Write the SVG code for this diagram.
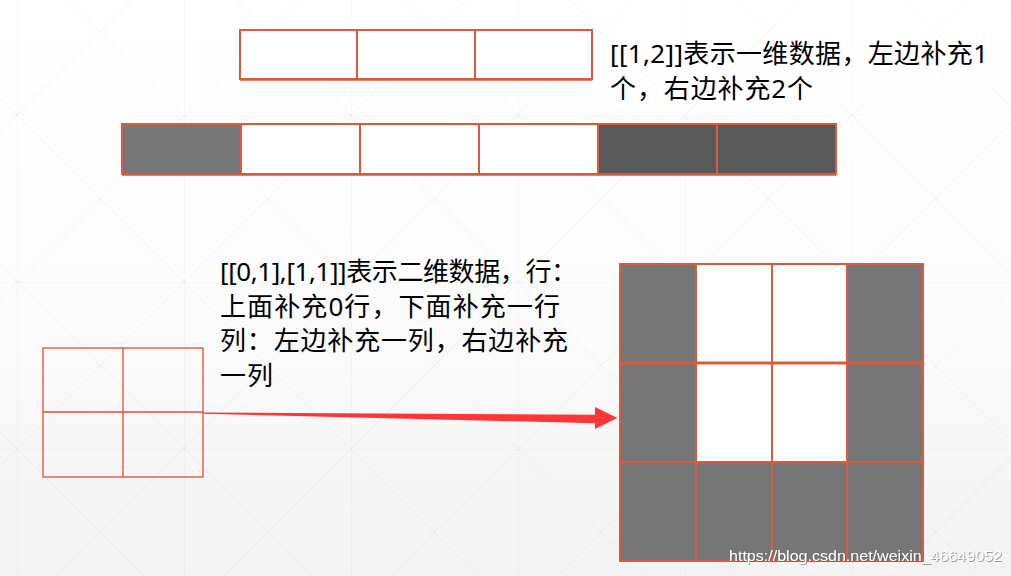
<svg xmlns="http://www.w3.org/2000/svg" width="1011" height="576" viewBox="0 0 1011 576">
  <defs>
    <linearGradient id="bg" x1="0" y1="0" x2="0" y2="1">
      <stop offset="0" stop-color="#ffffff"/>
      <stop offset="0.45" stop-color="#fdfdfd"/>
      <stop offset="1" stop-color="#f3f3f3"/>
    </linearGradient>
    <pattern id="deco" x="17" y="-52" width="167" height="167" patternUnits="userSpaceOnUse">
      <path d="M0 0V167M0 0H167M0 0L167 167M167 0L0 167" fill="none" stroke="#000" stroke-opacity="0.045" stroke-width="1"/>
    </pattern>
    <filter id="shadow" x="-5%" y="-30%" width="110%" height="160%">
      <feDropShadow dx="0.8" dy="0.8" stdDeviation="0.6" flood-color="#555" flood-opacity="0.7"/>
    </filter>
    <style>
      .cell { stroke: #dc5a3e; stroke-width: 2; }
      .w { fill: #ffffff; }
      .g { fill: #767676; }
      .d { fill: #595959; }
      .thin { fill: none; stroke: #dc4f33; stroke-width: 1.3; }
      .t { font-family: "Noto Sans", "Noto Sans CJK SC", sans-serif; font-size: 26px; fill: #000000; }
      .wm { font-family: "Liberation Sans", Arial, sans-serif; font-size: 15.5px; fill: #ffffff; }
    </style>
  </defs>

  <rect width="1011" height="576" fill="url(#bg)"/>
  <rect width="1011" height="576" fill="url(#deco)"/>

  <g id="bar1d-input">
    <rect class="cell w" x="240" y="30" width="117" height="49"/>
    <rect class="cell w" x="357" y="30" width="118" height="49"/>
    <rect class="cell w" x="475" y="30" width="117" height="49"/>
    <line x1="240" y1="79.5" x2="592" y2="79.5" stroke="#d9573a" stroke-width="2.5"/>
  </g>

  <g id="bar1d-padded">
    <rect class="cell g" x="122" y="124" width="119" height="50"/>
    <rect class="cell w" x="241" y="124" width="119" height="50"/>
    <rect class="cell w" x="360" y="124" width="119" height="50"/>
    <rect class="cell w" x="479" y="124" width="119" height="50"/>
    <rect class="cell d" x="598" y="124" width="119" height="50"/>
    <rect class="cell d" x="717" y="124" width="119" height="50"/>
    <line x1="122" y1="174.5" x2="836" y2="174.5" stroke="#d9573a" stroke-width="2.5"/>
  </g>

  <g id="label-1d">
    <text class="t" x="610" y="63" textLength="378" lengthAdjust="spacing">[[1,2]]表示一维数据，左边补充1</text>
    <text class="t" x="610" y="98" textLength="203" lengthAdjust="spacing">个，右边补充2个</text>
  </g>

  <g id="label-2d">
    <text class="t" x="220" y="281" textLength="357" lengthAdjust="spacing">[[0,1],[1,1]]表示二维数据，行：</text>
    <text class="t" x="220" y="316" textLength="340" lengthAdjust="spacing">上面补充0行，下面补充一行</text>
    <text class="t" x="220" y="350" textLength="348" lengthAdjust="spacing">列：左边补充一列，右边补充</text>
    <text class="t" x="220" y="385" textLength="53" lengthAdjust="spacing">一列</text>
  </g>

  <g id="grid2d-input">
    <rect class="thin" x="43" y="348" width="160" height="129"/>
    <line class="thin" x1="123" y1="348" x2="123" y2="477"/>
    <line class="thin" x1="43" y1="412" x2="203" y2="412"/>
  </g>

  <g id="connectors">
    <polygon points="203,412.4 595,414.8 595,407 617.5,418 595,429 595,423.2 203,413.8" fill="#fe3636"/>
  </g>

  <g id="grid2d-padded">
    <rect class="cell g" x="620" y="264" width="76" height="99"/>
    <rect class="cell w" x="696" y="264" width="76" height="99"/>
    <rect class="cell w" x="772" y="264" width="75" height="99"/>
    <rect class="cell g" x="847" y="264" width="76" height="99"/>
    <rect class="cell g" x="620" y="363" width="76" height="99"/>
    <rect class="cell w" x="696" y="363" width="76" height="99"/>
    <rect class="cell w" x="772" y="363" width="75" height="99"/>
    <rect class="cell g" x="847" y="363" width="76" height="99"/>
    <rect class="cell g" x="620" y="462" width="76" height="99"/>
    <rect class="cell g" x="696" y="462" width="76" height="99"/>
    <rect class="cell g" x="772" y="462" width="75" height="99"/>
    <rect class="cell g" x="847" y="462" width="76" height="99"/>
    <line x1="620" y1="363" x2="923" y2="363" stroke="#dc5a3e" stroke-width="3"/>
  </g>

  <text class="wm" x="729" y="561" textLength="273" lengthAdjust="spacingAndGlyphs" filter="url(#shadow)">https://blog.csdn.net/weixin_46649052</text>
</svg>
